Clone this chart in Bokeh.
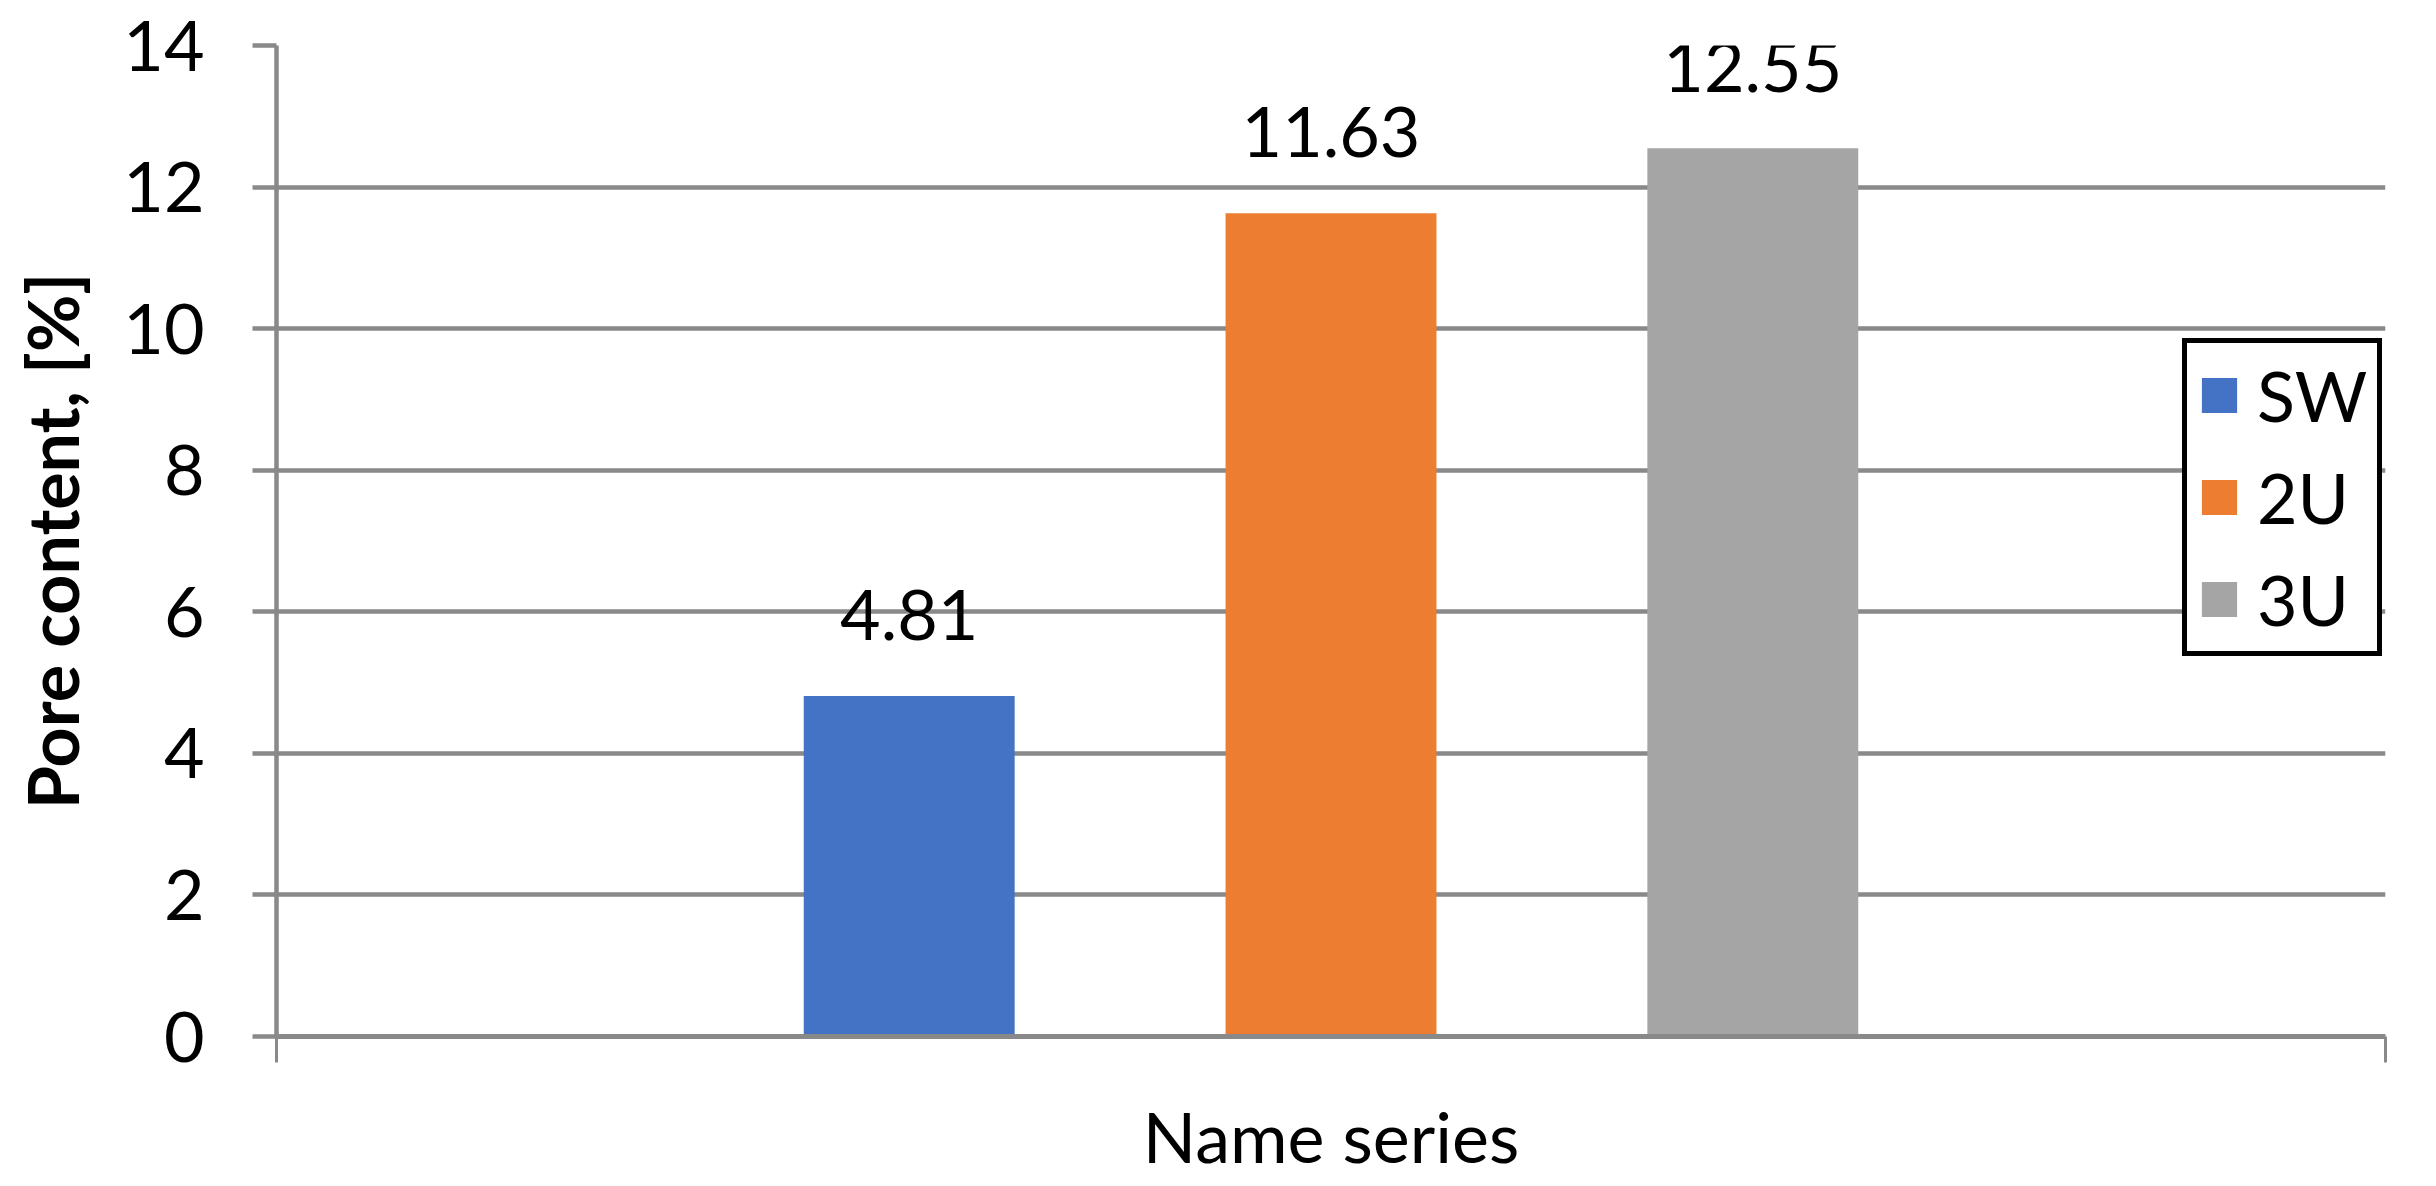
from bokeh.plotting import figure
from bokeh.models import (Range1d, FixedTicker, SingleIntervalTicker,
                          ColumnDataSource, LabelSet)
from bokeh.core.properties import value
from bokeh.embed import file_html
from bokeh.resources import INLINE

# ---- data ----
series = ["SW", "2U", "3U"]
values = [4.81, 11.63, 12.55]
value_labels = ["4.81", "11.63", "12.55"]
colors = ["#4472C4", "#ED7D31", "#A5A5A5"]
y_title = "Pore content, [%]"
x_title = "Name series"
y_min, y_max, y_step = 0, 14, 2

FONT = "Lato"
GRID = "#898989"

# one category spanning [0, 1]; series clustered around its centre (Excel-style)
n = len(series)
slot = 0.2          # distance between series centres, in category units
bar_w = 0.1         # bar width, in category units
xpos = [0.5 + (i - (n - 1) / 2) * slot for i in range(n)]

src = ColumnDataSource(dict(x=xpos, series=series, value=values, color=colors, label=value_labels))

p = figure(width=2420, height=1180,
           x_range=Range1d(0, 1),
           y_range=Range1d(y_min, y_max),
           output_backend="svg", toolbar_location=None,
           min_border_left=276, min_border_right=35,
           min_border_top=45, min_border_bottom=144)
p.outline_line_color = None
p.background_fill_color = "white"
p.border_fill_color = "white"

p.xgrid.visible = False
p.ygrid.grid_line_color = GRID
p.ygrid.grid_line_width = 4.5

p.vbar(x="x", top="value", width=bar_w, fill_color="color", line_color=None,
       source=src, legend_field="series")

# y axis
ya = p.yaxis[0]
ya.ticker = SingleIntervalTicker(interval=y_step, num_minor_ticks=0)
ya.axis_line_color = GRID
ya.axis_line_width = 4.5
ya.major_tick_line_color = GRID
ya.major_tick_line_width = 4.5
ya.major_tick_out = 24
ya.major_tick_in = 0
ya.minor_tick_line_color = None
ya.major_label_text_font = FONT
ya.major_label_text_font_size = "70px"
ya.major_label_text_color = "black"
ya.major_label_standoff = 48
ya.axis_label = y_title
ya.axis_label_text_font = FONT
ya.axis_label_text_font_size = "70px"
ya.axis_label_text_font_style = "bold"
ya.axis_label_text_color = "black"
ya.axis_label_standoff = 26

# x axis: category boundaries ticked at both ends, no tick labels
xa = p.xaxis[0]
xa.ticker = FixedTicker(ticks=[0, 1])
xa.major_label_overrides = {0: "", 1: ""}
xa.axis_line_color = GRID
xa.axis_line_width = 5
xa.major_tick_line_color = GRID
xa.major_tick_line_width = 3
xa.major_tick_out = 26
xa.major_tick_in = 0
xa.minor_tick_line_color = None
xa.major_label_text_font_size = "1px"
xa.major_label_standoff = 0
xa.axis_label = x_title
xa.axis_label_text_font = FONT
xa.axis_label_text_font_size = "70px"
xa.axis_label_text_font_style = "normal"
xa.axis_label_text_color = "black"
xa.axis_label_standoff = 31

labels = LabelSet(x="x", y="value", text="label", source=src,
                  text_align="center", text_baseline="alphabetic", y_offset=56,
                  text_font=value(FONT), text_font_size="70px", text_color="black")
p.add_layout(labels)

lg = p.legend[0]
lg.location = (1906, 380)
lg.margin = 0
lg.padding = 10
lg.spacing = 18
lg.glyph_width = 44
lg.glyph_height = 44
lg.label_standoff = 16
lg.label_text_font = FONT
lg.label_text_font_size = "70px"
lg.label_text_color = "black"
lg.border_line_color = "black"
lg.border_line_alpha = 1.0
lg.border_line_width = 5
lg.background_fill_color = "white"
lg.background_fill_alpha = 1.0

open("out.html", "w").write(file_html(p, INLINE))
